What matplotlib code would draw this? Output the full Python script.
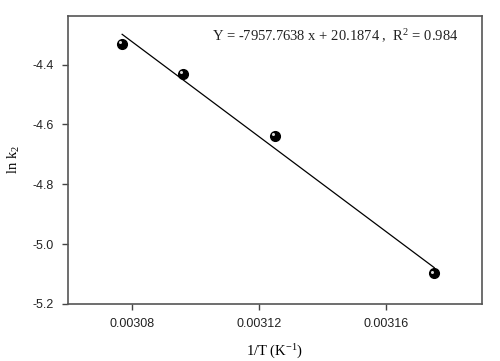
import numpy as np
import matplotlib.pyplot as plt
import matplotlib.transforms as mtransforms

# Datos
inv_T = [0.003077, 0.003096, 0.003125, 0.003175]
ln_k2 = [-4.332, -4.430, -4.638, -5.098]

# Ajuste lineal indicado en la figura
pendiente = -7957.7638
ordenada = 20.1874
r2 = 0.984

x_ticks = [0.00308, 0.00312, 0.00316]
y_ticks = [-5.2, -5.0, -4.8, -4.6, -4.4]

plt.rcParams['mathtext.fontset'] = 'custom'
plt.rcParams['mathtext.rm'] = 'Liberation Serif'
plt.rcParams['mathtext.it'] = 'Liberation Serif'

fig = plt.figure(figsize=(5.0, 3.61), dpi=100)
ax = fig.add_axes([0.136, 0.158, 0.828, 0.798])

# Recta de ajuste
x_fit = np.array([min(inv_T), max(inv_T)])
ax.plot(x_fit, pendiente * x_fit + ordenada, color='black', lw=0.9)

# Puntos tipo esfera
ax.plot(inv_T, ln_k2, 'o', color='black', ms=7, zorder=3)
brillo = mtransforms.offset_copy(ax.transData, fig=fig, x=-1.3, y=1.3, units='points')
ax.plot(inv_T, ln_k2, 'o', color='#d8d8d8', ms=2.2, mew=0, transform=brillo, zorder=4)

ax.set_xlim(0.00306, 0.00319)
ax.set_ylim(-5.2, -4.237)
ax.set_xticks(x_ticks)
ax.set_xticklabels([f"{v:.5f}" for v in x_ticks])
ax.set_yticks(y_ticks)
ax.set_yticklabels([f"{v:.1f}" for v in y_ticks])

for lab in ax.get_xticklabels() + ax.get_yticklabels():
    lab.set_family('Liberation Sans')
    lab.set_fontsize(9)
    lab.set_color('#222222')

ax.tick_params(direction='out', length=4, width=1.0, color='#444444', pad=6)
for sp in ax.spines.values():
    sp.set_color('#555555')
    sp.set_linewidth(1.2)

ax.set_xlabel(r'1/T (K$^{\mathregular{-1}}$)', family='Liberation Serif', fontsize=10.5, labelpad=9)
ax.set_ylabel(r'ln k$_{\mathregular{2}}$', family='Liberation Serif', fontsize=10.5, labelpad=8)

ax.text(0.348, 0.93,
        r'Y = -7957.7638 x + 20.1874 ,  R$^{\mathregular{2}}$ = 0.984',
        transform=ax.transAxes, family='Liberation Serif', fontsize=10.5,
        color='#222222', va='center', ha='left')

fig.savefig('out.png', dpi=100)
